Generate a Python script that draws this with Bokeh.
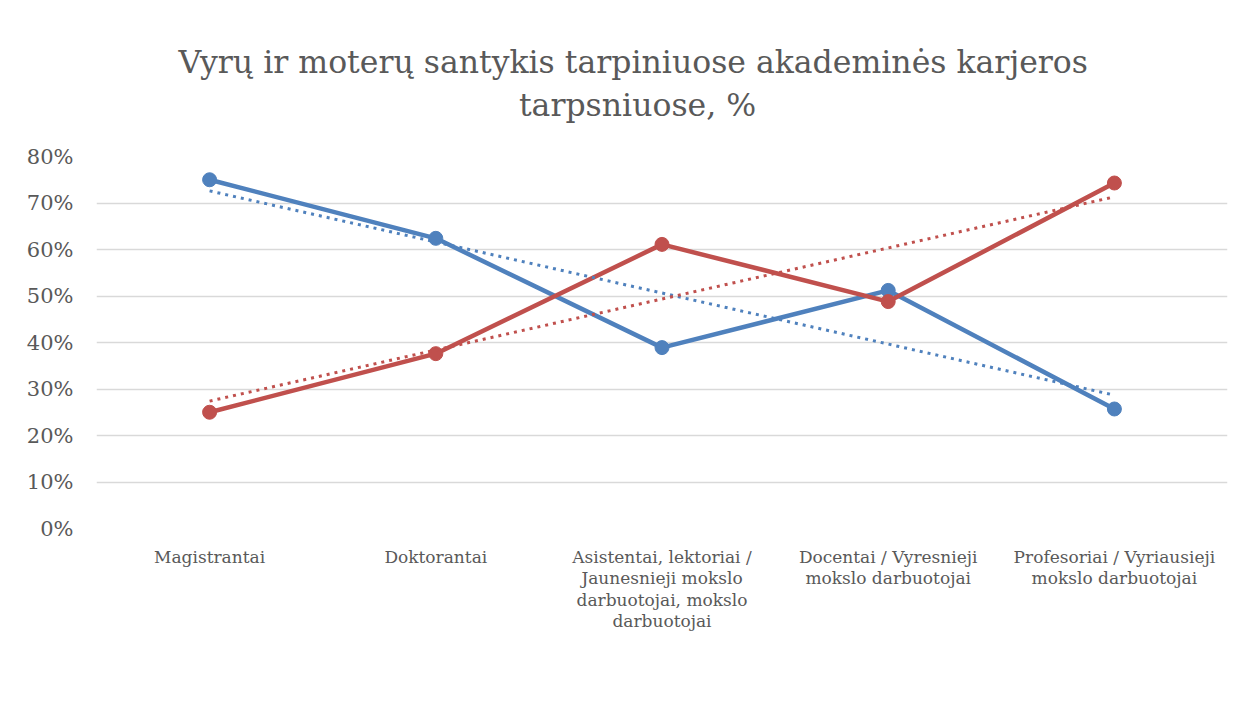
from bokeh.plotting import figure
from bokeh.models import (Range1d, FixedTicker, PrintfTickFormatter, Legend,
                          LegendItem, Title)
from bokeh.embed import file_html
from bokeh.resources import INLINE
import numpy as np

# ---------------- data ----------------
categories = [
    "Magistrantai",
    "Doktorantai",
    "Asistentai, lektoriai /\nJaunesnieji mokslo\ndarbuotojai, mokslo\ndarbuotojai",
    "Docentai / Vyresnieji\nmokslo darbuotojai",
    "Profesoriai / Vyriausieji\nmokslo darbuotojai",
]
moterys = [75.0, 62.4, 38.9, 51.2, 25.7]
vyrai = [25.0, 37.6, 61.1, 48.8, 74.3]
y_ticks = [0, 10, 20, 30, 40, 50, 60, 70, 80]
title_lines = ["Vyrų ir moterų santykis tarpiniuose akademinės karjeros",
               "tarpsniuose, %"]
series_names = ["Moterys", "Vyrai", "Linear (Moterys)", "Linear (Vyrai)"]

BLUE = "#4F81BD"
RED = "#C0504D"
TXT = "#595959"
FONT = "DejaVu Serif"

xs = np.arange(1, len(categories) + 1)
trend_m = np.polyval(np.polyfit(xs, moterys, 1), xs)
trend_v = np.polyval(np.polyfit(xs, vyrai, 1), xs)

p = figure(frame_width=1131, frame_height=372,
           output_backend="svg", toolbar_location=None,
           x_range=Range1d(0.5, len(categories) + 0.5),
           y_range=Range1d(y_ticks[0], y_ticks[-1]),
           min_border_left=96, min_border_right=13,
           min_border_top=156, min_border_bottom=150)
p.outline_line_color = None
p.background_fill_color = "white"
p.border_fill_color = "white"

# axes
p.xaxis.ticker = FixedTicker(ticks=list(xs))
p.xaxis.major_label_overrides = {int(i): c for i, c in zip(xs, categories)}
p.xaxis.axis_line_color = None
p.xaxis.major_tick_line_color = None
p.xaxis.minor_tick_line_color = None
p.xaxis.major_label_text_font = FONT
p.xaxis.major_label_text_font_size = "17px"
p.xaxis.major_label_text_color = TXT
p.xaxis.major_label_standoff = 12
p.xaxis.major_label_text_line_height = 1.08

p.yaxis.ticker = FixedTicker(ticks=y_ticks)
p.yaxis.formatter = PrintfTickFormatter(format="%d%%")
p.yaxis.axis_line_color = None
p.yaxis.major_tick_line_color = None
p.yaxis.minor_tick_line_color = None
p.yaxis.major_label_text_font = FONT
p.yaxis.major_label_text_font_size = "21px"
p.yaxis.major_label_text_color = TXT
p.yaxis.major_label_standoff = 17

p.xgrid.grid_line_color = None
p.ygrid.grid_line_color = "#D9D9D9"
p.ygrid.grid_line_width = 1.5

# series
lm = p.line(xs, moterys, line_color=BLUE, line_width=4.5)
sm = p.scatter(xs, moterys, size=14, fill_color=BLUE, line_color=BLUE)
lv = p.line(xs, vyrai, line_color=RED, line_width=4.5)
sv = p.scatter(xs, vyrai, size=14, fill_color=RED, line_color=RED)
tm = p.line(xs, trend_m, line_color=BLUE, line_width=3, line_dash="3 5")
tv = p.line(xs, trend_v, line_color=RED, line_width=3, line_dash="3 5")

legend = Legend(items=[
    LegendItem(label=series_names[0], renderers=[lm, sm]),
    LegendItem(label=series_names[1], renderers=[lv, sv]),
    LegendItem(label=series_names[2], renderers=[tm]),
    LegendItem(label=series_names[3], renderers=[tv]),
], orientation="horizontal", location=(100, 28), glyph_width=70,
    glyph_height=20, label_standoff=5, spacing=38, padding=0, margin=0,
    border_line_color=None, background_fill_alpha=0,
    label_text_font=FONT, label_text_font_size="21px", label_text_color=TXT)
p.add_layout(legend, "below")

# title: second line centred under the first with non-breaking spaces
title_text = title_lines[0] + "\n" + "\u00a0" * 34 + title_lines[1]
p.add_layout(Title(text=title_text, align="left", offset=82, text_font=FONT,
                   text_font_size="31.5px", text_color=TXT, text_line_height=1.22,
                   text_font_style="normal", standoff=66), "above")

open("out.html", "w").write(file_html(p, INLINE))
